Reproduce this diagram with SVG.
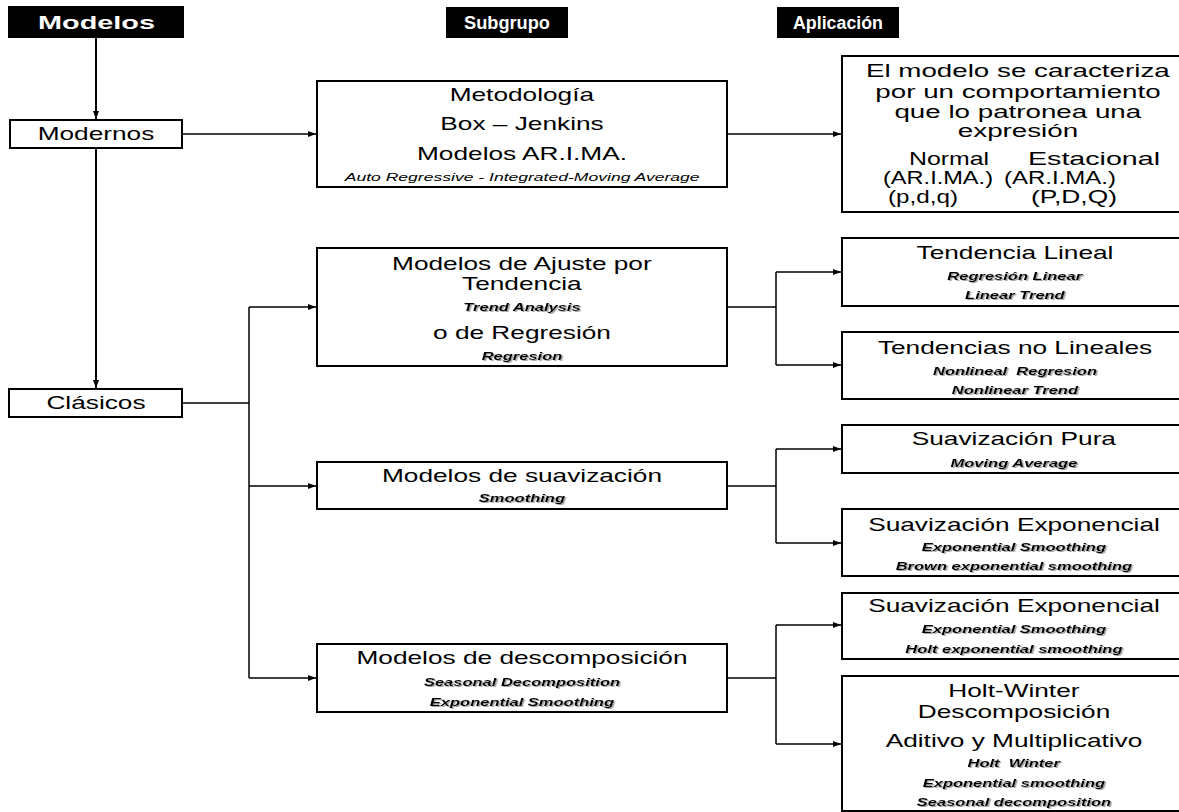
<svg xmlns="http://www.w3.org/2000/svg" width="1179" height="812" viewBox="0 0 1179 812">
  <style>
    .box { fill: #fff; stroke: #000; stroke-width: 2; }
    .hdr { fill: #000; }
    .hdrt { font-family: "Liberation Sans", Arial, sans-serif; font-weight: bold; fill: #fff; text-anchor: middle; }
    .w { transform-box: fill-box; transform-origin: center; transform: scaleX(1.5); }
    .r { font-family: "Liberation Sans", Arial, sans-serif; font-size: 17.5px; fill: #000; text-anchor: middle; }
    .ra { font-family: "Liberation Sans", Arial, sans-serif; font-size: 18.5px; fill: #000; text-anchor: middle; }
    .i { font-family: "Liberation Sans", Arial, sans-serif; font-size: 11.7px; font-style: italic; fill: #000; text-anchor: middle; }
    .bi { font-family: "Liberation Sans", Arial, sans-serif; font-size: 11px; font-style: italic; font-weight: bold; fill: #000; text-anchor: middle; filter: url(#soft); }
    .ln { fill: none; stroke: #000; stroke-width: 1.5; }
    .ln2 { fill: none; stroke: #000; stroke-width: 2; }
  </style>
  <defs>
    <marker id="ah" markerUnits="userSpaceOnUse" markerWidth="9" markerHeight="8" refX="8" refY="4" orient="auto">
      <path d="M0,1 L8,4 L0,7 Z" fill="#000"/>
    </marker>
    <filter id="soft" x="-5%" y="-20%" width="110%" height="150%">
      <feDropShadow dx="1" dy="1" stdDeviation="0.4" flood-color="#888" flood-opacity="0.8"/>
    </filter>
  </defs>

  <rect width="1179" height="812" fill="#fff"/>

  <!-- column headers -->
  <g id="h-modelos">
    <rect class="hdr" x="8" y="6" width="176" height="32"/>
    <text class="hdrt" x="96.5" y="29" font-size="18" textLength="117" lengthAdjust="spacingAndGlyphs">Modelos</text>
  </g>
  <g id="h-subgrupo">
    <rect class="hdr" x="446" y="7" width="122" height="31"/>
    <text class="hdrt" x="507" y="29" font-size="17.5" textLength="86" lengthAdjust="spacingAndGlyphs">Subgrupo</text>
  </g>
  <g id="h-aplicacion">
    <rect class="hdr" x="777" y="7" width="122" height="31"/>
    <text class="hdrt" x="838" y="29" font-size="17.5" textLength="90" lengthAdjust="spacingAndGlyphs">Aplicación</text>
  </g>

  <!-- connectors -->
  <g id="connectors">
    <path class="ln2" d="M96,38 V119" marker-end="url(#ah)"/>
    <path class="ln2" d="M96,148 V388" marker-end="url(#ah)"/>
    <path class="ln" d="M182,134 H316" marker-end="url(#ah)"/>
    <path class="ln" d="M727,134 H841" marker-end="url(#ah)"/>
    <path class="ln" d="M182,403 H249"/>
    <path class="ln" d="M249,307 V678"/>
    <path class="ln" d="M249,307 H316" marker-end="url(#ah)"/>
    <path class="ln" d="M249,486 H316" marker-end="url(#ah)"/>
    <path class="ln" d="M249,678 H316" marker-end="url(#ah)"/>
    <path class="ln" d="M727,307 H776"/>
    <path class="ln" d="M776,272 V365"/>
    <path class="ln" d="M776,272 H841" marker-end="url(#ah)"/>
    <path class="ln" d="M776,365 H841" marker-end="url(#ah)"/>
    <path class="ln" d="M727,486 H776"/>
    <path class="ln" d="M776,449 V543"/>
    <path class="ln" d="M776,449 H841" marker-end="url(#ah)"/>
    <path class="ln" d="M776,543 H841" marker-end="url(#ah)"/>
    <path class="ln" d="M727,678 H776"/>
    <path class="ln" d="M776,625 V744"/>
    <path class="ln" d="M776,625 H841" marker-end="url(#ah)"/>
    <path class="ln" d="M776,744 H841" marker-end="url(#ah)"/>
  </g>

  <!-- first column -->
  <g id="modernos">
    <rect class="box" x="10" y="120" width="172" height="28"/>
    <text class="r w" x="96" y="140">Modernos</text>
  </g>
  <g id="clasicos">
    <rect class="box" x="9" y="389" width="173" height="28"/>
    <text class="r w" x="96" y="409">Clásicos</text>
  </g>

  <!-- second column -->
  <g id="box-jenkins">
    <rect class="box" x="317" y="81" width="410" height="106"/>
    <text class="r w" x="522" y="101">Metodología</text>
    <text class="r w" x="522" y="130">Box – Jenkins</text>
    <text class="r w" x="522" y="160">Modelos AR.I.MA.</text>
    <text class="i w" x="522" y="181">Auto Regressive - Integrated-Moving Average</text>
  </g>
  <g id="ajuste-tendencia">
    <rect class="box" x="317" y="248" width="410" height="118"/>
    <text class="r w" x="522" y="270">Modelos de Ajuste por</text>
    <text class="r w" x="522" y="290">Tendencia</text>
    <text class="bi w" x="522" y="311">Trend Analysis</text>
    <text class="r w" x="522" y="339">o de Regresión</text>
    <text class="bi w" x="522" y="360">Regresion</text>
  </g>
  <g id="suavizacion">
    <rect class="box" x="317" y="462" width="410" height="47"/>
    <text class="r w" x="522" y="482">Modelos de suavización</text>
    <text class="bi w" x="522" y="502">Smoothing</text>
  </g>
  <g id="descomposicion">
    <rect class="box" x="317" y="644" width="410" height="68"/>
    <text class="r w" x="522" y="664">Modelos de descomposición</text>
    <text class="bi w" x="522" y="686">Seasonal Decomposition</text>
    <text class="bi w" x="522" y="706">Exponential Smoothing</text>
  </g>

  <!-- third column -->
  <g id="arima-expresion">
    <rect class="box" x="842" y="56" width="350" height="156"/>
    <text class="ra w" x="1018" y="77">El modelo se caracteriza</text>
    <text class="ra w" x="1018" y="98">por un comportamiento</text>
    <text class="ra w" x="1018" y="118">que lo patronea una</text>
    <text class="ra w" x="1018" y="137">expresión</text>
    <text class="ra" x="949" y="165" textLength="80" lengthAdjust="spacingAndGlyphs">Normal</text>
    <text class="ra" x="1094" y="165" textLength="132" lengthAdjust="spacingAndGlyphs">Estacional</text>
    <text class="ra" x="938" y="184" textLength="110" lengthAdjust="spacingAndGlyphs">(AR.I.MA.)</text>
    <text class="ra" x="1060" y="184" textLength="112" lengthAdjust="spacingAndGlyphs">(AR.I.MA.)</text>
    <text class="ra" x="923" y="203" textLength="70" lengthAdjust="spacingAndGlyphs">(p,d,q)</text>
    <text class="ra" x="1074" y="203" textLength="86" lengthAdjust="spacingAndGlyphs">(P,D,Q)</text>
  </g>
  <g id="tendencia-lineal">
    <rect class="box" x="842" y="238" width="350" height="68"/>
    <text class="r w" x="1015" y="259">Tendencia Lineal</text>
    <text class="bi w" x="1015" y="280">Regresión Linear</text>
    <text class="bi w" x="1015" y="299">Linear Trend</text>
  </g>
  <g id="tendencias-no-lineales">
    <rect class="box" x="842" y="332" width="350" height="67"/>
    <text class="r w" x="1015" y="354">Tendencias no Lineales</text>
    <text class="bi w" x="1015" y="375" xml:space="preserve">Nonlineal  Regresion</text>
    <text class="bi w" x="1015" y="394">Nonlinear Trend</text>
  </g>
  <g id="suavizacion-pura">
    <rect class="box" x="842" y="425" width="350" height="48"/>
    <text class="r w" x="1014" y="445">Suavización Pura</text>
    <text class="bi w" x="1014" y="467">Moving Average</text>
  </g>
  <g id="suavizacion-exp-brown">
    <rect class="box" x="842" y="509" width="350" height="67"/>
    <text class="r w" x="1014" y="531">Suavización Exponencial</text>
    <text class="bi w" x="1014" y="551">Exponential Smoothing</text>
    <text class="bi w" x="1014" y="570">Brown exponential smoothing</text>
  </g>
  <g id="suavizacion-exp-holt">
    <rect class="box" x="842" y="593" width="350" height="66"/>
    <text class="r w" x="1014" y="612">Suavización Exponencial</text>
    <text class="bi w" x="1014" y="633">Exponential Smoothing</text>
    <text class="bi w" x="1014" y="653">Holt exponential smoothing</text>
  </g>
  <g id="holt-winter">
    <rect class="box" x="842" y="676" width="350" height="135"/>
    <text class="r w" x="1014" y="697">Holt-Winter</text>
    <text class="r w" x="1014" y="718">Descomposición</text>
    <text class="r w" x="1014" y="747">Aditivo y Multiplicativo</text>
    <text class="bi w" x="1014" y="767" xml:space="preserve">Holt  Winter</text>
    <text class="bi w" x="1014" y="787">Exponential smoothing</text>
    <text class="bi w" x="1014" y="806">Seasonal decomposition</text>
  </g>
</svg>
